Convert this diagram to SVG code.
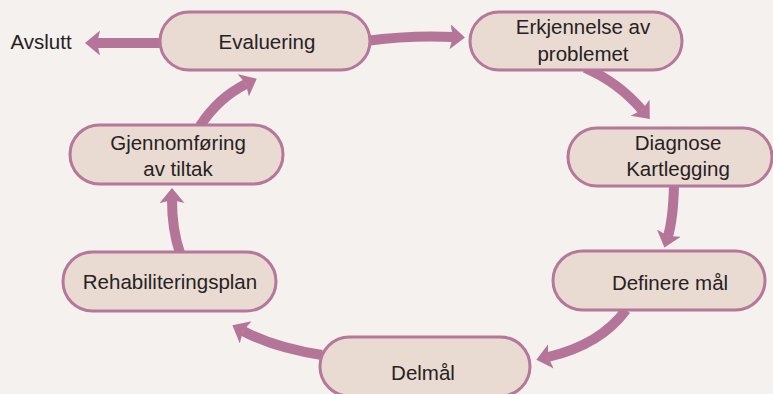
<svg xmlns="http://www.w3.org/2000/svg" width="773" height="394" viewBox="0 0 773 394">
<style>
.node rect{fill:#e9dbd2;stroke:#b5779a;stroke-width:3}
.node text,.lbl{font-family:"Liberation Sans",Arial,sans-serif;font-size:20.5px;fill:#262223;text-anchor:middle}
.conn path{fill:none;stroke:#b57598;stroke-width:10}
</style>
<defs>
<marker id="ah" markerUnits="userSpaceOnUse" markerWidth="16" markerHeight="26" refX="3" refY="12.5" orient="auto">
<path d="M0,0 L15,12.5 L0,25 L3,12.5 z" fill="#b57598"/>
</marker>
</defs>
<rect width="773" height="394" fill="#f5f1ee"/>
<g id="connectors" class="conn">
<path d="M 163 43 L 97 43" marker-end="url(#ah)"/>
<path d="M 366 41 Q 410 35 453 37" marker-end="url(#ah)"/>
<path d="M 585 68 Q 618 82 642 110" marker-end="url(#ah)"/>
<path d="M 674 186 Q 673 220 668 236" marker-end="url(#ah)"/>
<path d="M 626 310 Q 600 345 548 357" marker-end="url(#ah)"/>
<path d="M 322 355 Q 275 348 243 331" marker-end="url(#ah)"/>
<path d="M 180 253 Q 172 230 172 200" marker-end="url(#ah)"/>
<path d="M 200 126 Q 218 98 246 84" marker-end="url(#ah)"/>
</g>
<g id="avslutt"><text class="lbl" x="41" y="49">Avslutt</text></g>
<g id="evaluering" class="node"><rect x="160" y="12" width="210" height="58" rx="29"/><text x="267" y="49">Evaluering</text></g>
<g id="erkjennelse" class="node"><rect x="470" y="12" width="212" height="58" rx="29"/><text x="583" y="34">Erkjennelse av</text><text x="583" y="61">problemet</text></g>
<g id="diagnose" class="node"><rect x="568" y="128" width="204" height="58" rx="29"/><text x="678" y="150">Diagnose</text><text x="678" y="176">Kartlegging</text></g>
<g id="definere" class="node"><rect x="553" y="251" width="212" height="59" rx="29.5"/><text x="670" y="290">Definere mål</text></g>
<g id="delmal" class="node"><rect x="320" y="337" width="210" height="59" rx="29.5"/><text x="423" y="380">Delmål</text></g>
<g id="rehab" class="node"><rect x="63" y="252" width="213" height="59" rx="29.5"/><text x="170" y="289">Rehabiliteringsplan</text></g>
<g id="gjennomforing" class="node"><rect x="70" y="125" width="213" height="59" rx="29.5"/><text x="178" y="150">Gjennomføring</text><text x="178" y="176">av tiltak</text></g>
</svg>
